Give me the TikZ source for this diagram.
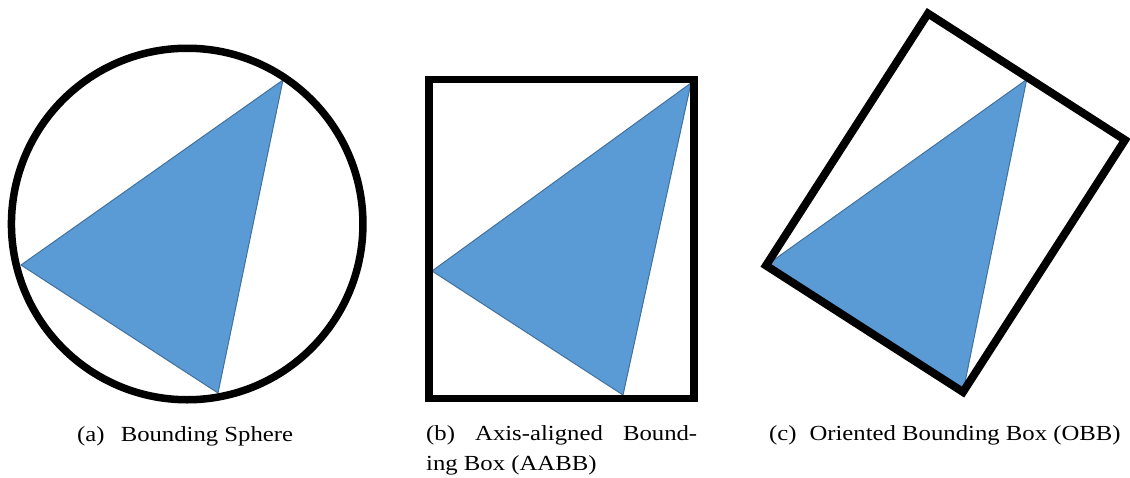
\documentclass[tikz,border=0pt]{standalone}
\usepackage{fontspec}
\setmainfont{Liberation Serif}[FakeStretch=1.15]
\begin{document}
\begin{tikzpicture}[x=1pt,y=-1pt,
  tri/.style={fill=triblue,draw=triedge,line width=1pt,line join=round},
  bound/.style={draw=black,line width=7.5pt},
  captext/.style={inner sep=0pt,anchor=base west,font=\fontsize{21.5}{30}\selectfont}]
\definecolor{triblue}{HTML}{5B9BD5}
\definecolor{triedge}{HTML}{41719C}
\useasboundingbox (0,0) rectangle (1130,477);
% (a) bounding sphere
\coordinate (aT) at (283,80);
\coordinate (aL) at (21,265);
\coordinate (aB) at (218,393);
\fill[tri] (aT) -- (aL) -- (aB) -- cycle;
\node[bound,circle,minimum size=351.5pt,inner sep=0pt] (sphere) at (187.2,224) {};
% (b) AABB
\coordinate (bT) at (691,83);
\coordinate (bL) at (432,271);
\coordinate (bB) at (623,395);
\fill[tri] (bT) -- (bL) -- (bB) -- cycle;
\coordinate (b1) at (429,79.5);
\coordinate (b2) at (694,398.5);
\draw[bound] (b1) rectangle (b2);
% (c) OBB
\coordinate (cT) at (1026.7,79.5);
\coordinate (cL) at (766,265.5);
\coordinate (cB) at (963,392);
\fill[tri] (cT) -- (cL) -- (cB) -- cycle;
\coordinate (oL) at (766,265.5);
\coordinate (oB) at (963,392);
\coordinate (oR) at (1125,140);
\coordinate (oT) at (928,13.5);
\draw[bound,line width=8pt] (oL) -- (oB) -- (oR) -- (oT) -- cycle;
% captions
\node[captext] (capa) at (77,441) {(a)\hskip0.75em Bounding Sphere};
\node[captext] (capb1) at (426,440) {\hbox to 271pt{(b)\hfill Axis-aligned\hfill Bound-}};
\node[captext] (capb2) at (426,470) {ing Box (AABB)};
\node[captext] (capc) at (769,440) {(c)\hskip0.6em Oriented Bounding Box (OBB)};
\end{tikzpicture}
\end{document}
